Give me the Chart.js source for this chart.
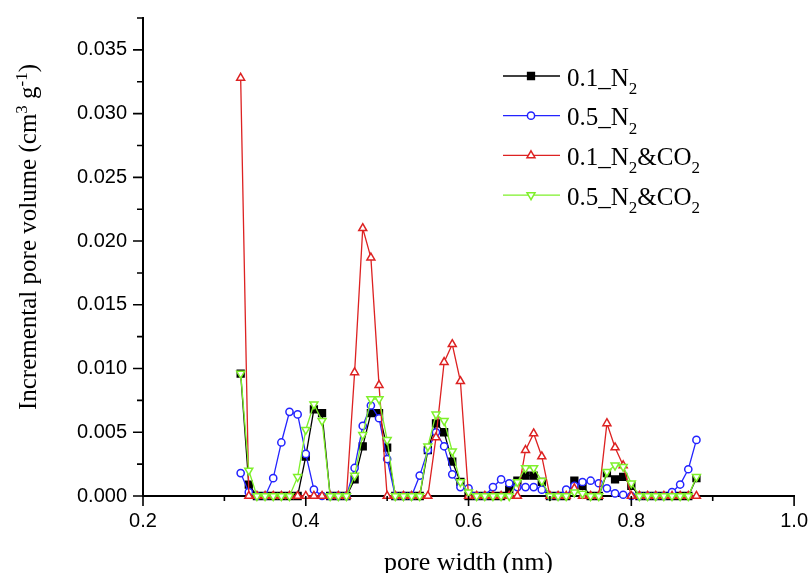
<!DOCTYPE html>
<html>
<head>
<meta charset="utf-8">
<script src="https://cdn.jsdelivr.net/npm/chart.js@4.4.0/dist/chart.umd.min.js"></script>
<style>
html, body { margin: 0; padding: 0; background: #fff; }
#wrap { width: 811px; height: 573px; position: relative; }
</style>
</head>
<body>
<div id="wrap"><canvas id="chart1"></canvas></div>
<script>
// pore width (nm), one point every 0.01 nm
const poreWidth = [0.32, 0.33, 0.34, 0.35, 0.36, 0.37, 0.38, 0.39, 0.40, 0.41,
    0.42, 0.43, 0.44, 0.45, 0.46, 0.47, 0.48, 0.49, 0.50, 0.51,
    0.52, 0.53, 0.54, 0.55, 0.56, 0.57, 0.58, 0.59, 0.60, 0.61,
    0.62, 0.63, 0.64, 0.65, 0.66, 0.67, 0.68, 0.69, 0.70, 0.71,
    0.72, 0.73, 0.74, 0.75, 0.76, 0.77, 0.78, 0.79, 0.80, 0.81,
    0.82, 0.83, 0.84, 0.85, 0.86, 0.87, 0.88];

const n2_01 = [0.0096, 0.0009, 0, 0, 0, 0, 0, 0, 0.0031, 0.0068,
    0.0065, 0, 0, 0, 0.0013, 0.0039, 0.0065, 0.0065, 0.0038, 0,
    0, 0, 0, 0.0036, 0.0057, 0.0050, 0.0027, 0.0011, 0, 0,
    0, 0, 0, 0.0005, 0.0012, 0.0016, 0.0016, 0.0011, 0, 0,
    0, 0.0012, 0.0008, 0, 0, 0.0018, 0.0013, 0.0015, 0.0008, 0,
    0, 0, 0, 0, 0, 0, 0.0014];

const n2_05 = [0.0018, 0.0003, 0, 0, 0.0014, 0.0042, 0.0066, 0.0064, 0.0033, 0.0005,
    0, 0, 0, 0, 0.0022, 0.0055, 0.0071, 0.0061, 0.0029, 0,
    0, 0, 0.0016, 0.0036, 0.0050, 0.0039, 0.0017, 0.0007, 0.0006, 0,
    0, 0.0007, 0.0013, 0.0010, 0.0007, 0.0007, 0.0007, 0.0005, 0, 0,
    0.0005, 0.0008, 0.0011, 0.0012, 0.0010, 0.0006, 0.0002, 0.0001, 0, 0,
    0, 0, 0, 0.0003, 0.0009, 0.0021, 0.0044];

const mix_01 = [0.0328, 0, 0, 0, 0, 0, 0, 0, 0, 0,
    0, 0, 0, 0, 0.0097, 0.0210, 0.0187, 0.0087, 0, 0,
    0, 0, 0, 0, 0.0046, 0.0105, 0.0119, 0.0090, 0, 0,
    0, 0, 0, 0, 0, 0.0036, 0.0049, 0.0031, 0, 0,
    0, 0.0006, 0, 0, 0, 0.0057, 0.0038, 0.0024, 0, 0,
    0, 0, 0, 0, 0, 0, 0];

const mix_05 = [0.0096, 0.0020, 0, 0, 0, 0, 0, 0.0015, 0.0052, 0.0072,
    0.0059, 0, 0, 0, 0.0016, 0.0048, 0.0076, 0.0076, 0.0044, 0,
    0, 0, 0, 0.0039, 0.0064, 0.0059, 0.0035, 0.0011, 0.0003, 0,
    0, 0, 0, 0, 0.0011, 0.0022, 0.0022, 0.0012, 0, 0,
    0, 0.0003, 0.0002, 0, 0, 0.0019, 0.0024, 0.0023, 0.0010, 0,
    0, 0, 0, 0, 0, 0, 0.0015];

const seriesNames = ['0.1_N2', '0.5_N2', '0.1_N2&CO2', '0.5_N2&CO2'];
// legend text pieces: [text, isSubscript]
const legendParts = [
    [['0.1_N', false], ['2', true]],
    [['0.5_N', false], ['2', true]],
    [['0.1_N', false], ['2', true], ['&CO', false], ['2', true]],
    [['0.5_N', false], ['2', true], ['&CO', false], ['2', true]]
];
// y title pieces: [text, isSuperscript]
const yTitleParts = [['Incremental pore volume (cm', false], ['3', true], [' g', false], ['-1', true], [')', false]];
const xTicks = [0.2, 0.3, 0.4, 0.5, 0.6, 0.7, 0.8, 0.9, 1.0];
const yTicks = [0, 0.0025, 0.005, 0.0075, 0.01, 0.0125, 0.015, 0.0175, 0.02,
    0.0225, 0.025, 0.0275, 0.03, 0.0325, 0.035, 0.0375];

const colors = ['#000000', '#2323ff', '#dd2222', '#7ef02a'];
const styles = [
    {pointStyle: 'rect', radius: 4.8, rotation: 0, fill: '#000000'},
    {pointStyle: 'circle', radius: 3.6, rotation: 0, fill: '#ffffff'},
    {pointStyle: 'triangle', radius: 4.6, rotation: 0, fill: '#ffffff'},
    {pointStyle: 'triangle', radius: 4.6, rotation: 180, fill: '#ffffff'}
];
const seriesValues = [n2_01, n2_05, mix_01, mix_05];

function toPoints(vals) {
    return poreWidth.map((w, i) => ({x: w, y: vals[i]}));
}

const datasets = seriesValues.map((vals, i) => ({
    label: seriesNames[i],
    data: toPoints(vals),
    borderColor: colors[i],
    backgroundColor: styles[i].fill,
    borderWidth: 1.3,
    pointStyle: styles[i].pointStyle,
    pointRadius: styles[i].radius,
    pointRotation: styles[i].rotation,
    pointBorderWidth: 1.5,
    pointBorderColor: colors[i],
    pointBackgroundColor: styles[i].fill,
    tension: 0,
    clip: false,
    order: 3 - i
}));

// major/minor tick marks drawn outward, like the original plot
const axisTicks = {
    id: 'axisTicks',
    afterDraw(chart) {
        const {ctx} = chart;
        const x = chart.scales.x, y = chart.scales.y;
        ctx.save();
        ctx.strokeStyle = '#000';
        ctx.lineWidth = 1.6;
        ctx.beginPath();
        xTicks.forEach((v, k) => {
            const px = x.getPixelForValue(v);
            const len = k % 2 === 0 ? 10 : 5;
            ctx.moveTo(px, y.bottom);
            ctx.lineTo(px, y.bottom + len);
        });
        yTicks.forEach((v, k) => {
            const py = y.getPixelForValue(v);
            const len = k % 2 === 0 ? 10 : 6;
            ctx.moveTo(x.left, py);
            ctx.lineTo(x.left - len, py);
        });
        ctx.stroke();
        ctx.restore();
    }
};

// y axis title with real superscripts
const yTitle = {
    id: 'yTitle',
    afterDraw(chart) {
        const ctx = chart.ctx;
        const mainFont = '25px "Liberation Serif"';
        const supFont = '17px "Liberation Serif"';
        let total = 0;
        yTitleParts.forEach(([t, sup]) => {
            ctx.font = sup ? supFont : mainFont;
            total += ctx.measureText(t).width;
        });
        ctx.save();
        ctx.translate(36, 237);
        ctx.rotate(-Math.PI / 2);
        ctx.fillStyle = '#000';
        ctx.textBaseline = 'alphabetic';
        let tx = -total / 2;
        yTitleParts.forEach(([t, sup]) => {
            ctx.font = sup ? supFont : mainFont;
            ctx.fillText(t, tx, sup ? -9 : 0);
            tx += ctx.measureText(t).width;
        });
        ctx.restore();
    }
};

function drawMarker(ctx, st, color, cx, cy) {
    ctx.save();
    ctx.strokeStyle = color;
    ctx.fillStyle = st.fill;
    ctx.lineWidth = 1.5;
    ctx.beginPath();
    const r = st.radius;
    if (st.pointStyle === 'rect') {
        const s = r / Math.SQRT2;
        ctx.rect(cx - s, cy - s, 2 * s, 2 * s);
    } else if (st.pointStyle === 'circle') {
        ctx.arc(cx, cy, r, 0, Math.PI * 2);
    } else {
        const rot = st.rotation * Math.PI / 180;
        for (let k = 0; k < 3; k++) {
            const a = rot - Math.PI / 2 + k * 2 * Math.PI / 3;
            const px = cx + Math.cos(a) * r, py = cy + Math.sin(a) * r;
            if (k === 0) ctx.moveTo(px, py); else ctx.lineTo(px, py);
        }
        ctx.closePath();
    }
    ctx.fill();
    ctx.stroke();
    ctx.restore();
}

const customLegend = {
    id: 'customLegend',
    afterDraw(chart) {
        const ctx = chart.ctx;
        ctx.save();
        legendParts.forEach((parts, i) => {
            const ly = 76 + i * 39.7;
            ctx.strokeStyle = colors[i];
            ctx.lineWidth = 1.3;
            ctx.beginPath();
            ctx.moveTo(503, ly);
            ctx.lineTo(560, ly);
            ctx.stroke();
            drawMarker(ctx, styles[i], colors[i], 531, ly);
            let tx = 567;
            ctx.fillStyle = '#000';
            ctx.textBaseline = 'alphabetic';
            parts.forEach(([txt, sub]) => {
                ctx.font = sub ? '17px "Liberation Serif"' : '25px "Liberation Serif"';
                ctx.fillText(txt, tx, sub ? ly + 18 : ly + 9.5);
                tx += ctx.measureText(txt).width;
            });
        });
        ctx.restore();
    }
};

const MyChart = document.getElementById('chart1').getContext('2d');
new Chart(MyChart, {
    type: 'line',
    data: {datasets: datasets},
    options: {
        responsive: true,
        maintainAspectRatio: false,
        animation: false,
        layout: {padding: {top: 16, right: 15, left: 0, bottom: 0}},
        plugins: {
            legend: {display: false},
            tooltip: {enabled: false}
        },
        scales: {
            x: {
                type: 'linear',
                min: 0.2,
                max: 1.0,
                afterFit: (scale) => { scale.height = 77; },
                border: {display: true, color: '#000', width: 2},
                grid: {display: true, drawOnChartArea: false, drawTicks: true, tickLength: 10, color: 'transparent'},
                ticks: {
                    stepSize: 0.1,
                    autoSkip: false,
                    maxRotation: 0,
                    padding: 3,
                    color: '#000',
                    font: {family: '"Liberation Sans", Arial', size: 20},
                    callback: (v) => Math.round(v * 10) % 2 === 0 ? v.toFixed(1) : ''
                },
                title: {
                    display: true,
                    text: 'pore width (nm)',
                    color: '#000',
                    font: {family: '"Liberation Serif", "Times New Roman"', size: 26, lineHeight: 0.76},
                    padding: {top: 0, bottom: 0}
                }
            },
            y: {
                min: 0,
                max: 0.0375,
                afterFit: (scale) => { scale.width = 143; },
                border: {display: true, color: '#000', width: 2},
                grid: {display: true, drawOnChartArea: false, drawTicks: true, tickLength: 10, color: 'transparent'},
                ticks: {
                    stepSize: 0.0025,
                    autoSkip: false,
                    padding: 6,
                    color: '#000',
                    font: {family: '"Liberation Sans", Arial', size: 20},
                    callback: (v) => Math.round(v / 0.0025) % 2 === 0 ? v.toFixed(3) : ''
                },
                title: {display: false}
            }
        }
    },
    plugins: [axisTicks, yTitle, customLegend]
});
</script>
</body>
</html>
